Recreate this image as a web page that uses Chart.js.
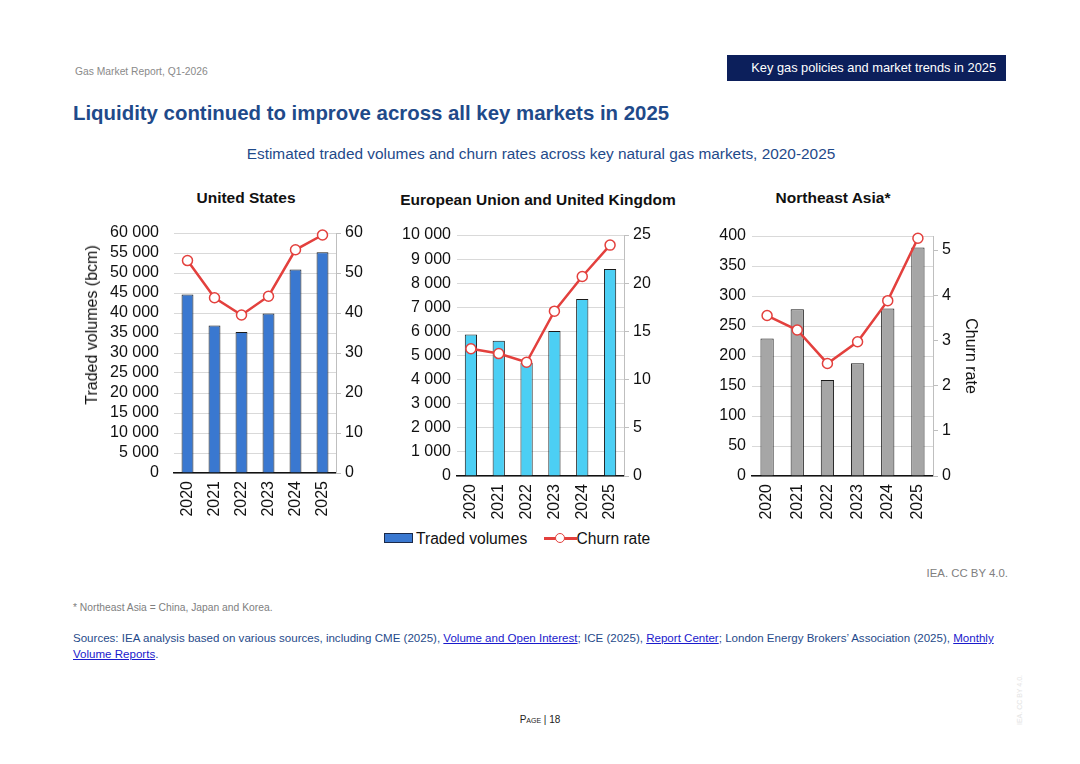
<!DOCTYPE html>
<html>
<head>
<meta charset="utf-8">
<script src="https://cdn.jsdelivr.net/npm/chart.js@4"></script>
<style>
  body { margin: 0; background: #fff; font-family: 'Liberation Sans', Arial, sans-serif; }
  #page { position: relative; width: 1080px; height: 764px; overflow: hidden; background: #fff; }
  .abs { position: absolute; white-space: nowrap; }
  .box { position: absolute; }
  .box canvas { display: block; }
  .ctitle { position: absolute; white-space: nowrap; font-size: 15.5px; font-weight: bold; color: #111; transform: translate(-50%, -50%); }
  a { color: #1a1acc; text-decoration: underline; }
</style>
</head>
<body>
<div id="page">
  <div class="abs" style="left:75px; top:66px; font-size:10.3px; color:#8a8a8a;">Gas Market Report, Q1-2026</div>
  <div class="abs" style="left:727px; top:55px; width:279px; height:26px; background:#0c1f5b;"></div>
  <div class="abs" style="left:727px; top:55px; width:269px; height:26px; line-height:26px; text-align:right; font-size:12.8px; color:#fff;">Key gas policies and market trends in 2025</div>
  <div class="abs" style="left:73px; top:102px; font-size:20.4px; font-weight:bold; color:#1f4a8a;">Liquidity continued to improve across all key markets in 2025</div>
  <div class="abs" style="left:0; width:1082px; top:145px; text-align:center; font-size:15.4px; color:#1f4a8a;">Estimated traded volumes and churn rates across key natural gas markets, 2020-2025</div>

  <div class="ctitle" style="left:246px; top:198px;">United States</div>
  <div class="ctitle" style="left:538px; top:200px;">European Union and United Kingdom</div>
  <div class="ctitle" style="left:833px; top:198px;">Northeast Asia*</div>

  <div class="box" style="left:60px; top:185px; width:320px; height:345px;"><canvas id="usChart"></canvas></div>
  <div class="box" style="left:380px; top:185px; width:320px; height:345px;"><canvas id="euChart"></canvas></div>
  <div class="box" style="left:700px; top:185px; width:300px; height:345px;"><canvas id="asiaChart"></canvas></div>

  <div class="abs" style="left:92px; top:325px; font-size:16px; color:#111; transform:translate(-50%,-50%) rotate(-90deg);">Traded volumes (bcm)</div>

  <!-- legend under the middle chart -->
  <div class="abs" style="left:384px; top:530px; font-size:15.6px; color:#111; line-height:18px;">
    <span style="display:inline-block; width:27px; height:8px; background:#3a78d0; border:1px solid #1b2a4a; vertical-align:middle; margin-top:-3px;"></span><span style="margin-left:3px;">Traded volumes</span>
    <span style="display:inline-block; position:relative; width:33px; height:10px; vertical-align:middle; margin-left:12px; margin-top:-3px;">
      <span style="position:absolute; left:0; top:4px; width:33px; height:2.5px; background:#e3403d;"></span>
      <span style="position:absolute; left:11px; top:0; width:8px; height:8px; border:1.5px solid #e3403d; border-radius:50%; background:#fff;"></span>
    </span><span style="margin-left:0px;">Churn rate</span>
  </div>

  <div class="abs" style="right:72px; top:567px; font-size:11.4px; color:#808080;">IEA. CC BY 4.0.</div>
  <div class="abs" style="left:73px; top:602px; font-size:10.3px; color:#808080;">* Northeast Asia = China, Japan and Korea.</div>
  <div class="abs" style="left:73px; top:631px; font-size:11.55px; color:#1f4a8a; line-height:15.5px;">Sources: IEA analysis based on various sources, including CME (2025), <a>Volume and Open Interest</a>; ICE (2025), <a>Report Center</a>; London Energy Brokers’ Association (2025), <a>Monthly</a><br><a>Volume Reports</a>.</div>
  <div class="abs" style="left:0; width:1080px; top:714px; text-align:center; font-size:10px; color:#222; font-variant:small-caps;">Page | 18</div>
  <div class="abs" style="left:1019px; top:700px; font-size:7px; color:#e4e4e4; transform:translate(-50%,-50%) rotate(-90deg);">IEA. CC BY 4.0.</div>
</div>

<script>
// categories
const years = ['2020', '2021', '2022', '2023', '2024', '2025'];

// United States
const usVolumes = [44600, 36900, 35250, 39900, 50900, 55200];
const usChurn = [53.1, 43.8, 39.5, 44.2, 55.8, 59.5];

// European Union and United Kingdom
const euVolumes = [5870, 5610, 4690, 6020, 7340, 8590];
const euChurn = [13.2, 12.7, 11.8, 17.1, 20.7, 23.95];

// Northeast Asia
const asiaVolumes = [229, 278, 160, 188, 279, 381];
const asiaChurn = [3.55, 3.23, 2.49, 2.97, 3.88, 5.26];

const red = '#e3403d';
Chart.defaults.font.family = "'Liberation Sans', Arial, sans-serif";
Chart.defaults.color = '#111';

function spaced(v) {
    return String(v).replace(/\B(?=(\d{3})+(?!\d))/g, ' ');
}

// ticks every step from 0 up to max
function stepTicks(max, step) {
    var list = [];
    for (var v = 0; v <= max + 1e-9; v += step) list.push({ value: Math.round(v * 1000) / 1000 });
    return list;
}

function makeChart(id, opt) {
    const ctx = document.getElementById(id).getContext('2d');
    return new Chart(ctx, {
        type: 'bar',
        data: {
            labels: years,
            datasets: [{
                type: 'line',
                label: 'Churn rate',
                data: opt.churn,
                yAxisID: 'y2',
                order: 0,
                borderColor: red,
                borderWidth: 2.5,
                pointRadius: 5,
                pointBorderWidth: 1.5,
                pointBackgroundColor: '#fff',
                pointBorderColor: red,
                tension: 0,
                clip: false
            }, {
                label: 'Traded volumes',
                data: opt.volumes,
                yAxisID: 'y',
                order: 1,
                backgroundColor: opt.barColor,
                borderColor: '#1a1a1a',
                borderWidth: 1,
                categoryPercentage: 1,
                barPercentage: 0.44
            }]
        },
        options: {
            responsive: true,
            maintainAspectRatio: false,
            animation: false,
            layout: { padding: { top: opt.plotTop } },
            plugins: {
                legend: { display: false },
                tooltip: { enabled: false }
            },
            scales: {
                x: {
                    offset: true,
                    grid: { display: true, drawOnChartArea: false, drawTicks: false },
                    border: { display: true, color: '#111', width: 1.5 },
                    ticks: { minRotation: 90, maxRotation: 90, padding: 8, font: { size: 16 } },
                    afterFit: function(scale) { scale.height = 345 - opt.plotBottom; }
                },
                y: {
                    position: 'left',
                    min: 0,
                    max: opt.leftMax,
                    grid: { color: '#d9d9d9', lineWidth: 1, drawTicks: false },
                    border: { display: false },
                    ticks: { autoSkip: false, padding: opt.leftPad, font: { size: 16 }, callback: spaced },
                    afterBuildTicks: function(scale) { scale.ticks = stepTicks(opt.leftMax, opt.leftStep); },
                    afterFit: function(scale) { scale.width = opt.leftWidth; }
                },
                y2: {
                    position: 'right',
                    min: 0,
                    max: opt.rightMax,
                    grid: { drawOnChartArea: false, drawTicks: true, tickLength: 5, color: '#bfbfbf' },
                    border: { display: true, color: '#bfbfbf', width: 1 },
                    ticks: { autoSkip: false, padding: 4, font: { size: 16 } },
                    afterBuildTicks: function(scale) { scale.ticks = stepTicks(opt.rightMax, opt.rightStep); },
                    title: {
                        display: !!opt.rightTitle,
                        text: opt.rightTitle || '',
                        color: '#111',
                        font: { size: 16 },
                        padding: { top: 20 }
                    },
                    afterFit: function(scale) { scale.width = opt.rightWidth; }
                }
            }
        }
    });
}

makeChart('usChart', {
    volumes: usVolumes, churn: usChurn, barColor: '#3a78d0',
    plotTop: 48, plotBottom: 288,
    leftMax: 60000, leftStep: 5000, leftWidth: 114, leftPad: 15,
    rightMax: 60, rightStep: 10, rightWidth: 44
});

makeChart('euChart', {
    volumes: euVolumes, churn: euChurn, barColor: '#4ccff4',
    plotTop: 50, plotBottom: 291,
    leftMax: 10000, leftStep: 1000, leftWidth: 77, leftPad: 6,
    rightMax: 25, rightStep: 5, rightWidth: 76
});

makeChart('asiaChart', {
    volumes: asiaVolumes, churn: asiaChurn, barColor: '#a6a6a6',
    plotTop: 51, plotBottom: 291,
    leftMax: 400, leftStep: 50, leftWidth: 52, leftPad: 6,
    rightMax: 5.31, rightStep: 1, rightWidth: 67, rightTitle: 'Churn rate'
});
</script>
</body>
</html>
